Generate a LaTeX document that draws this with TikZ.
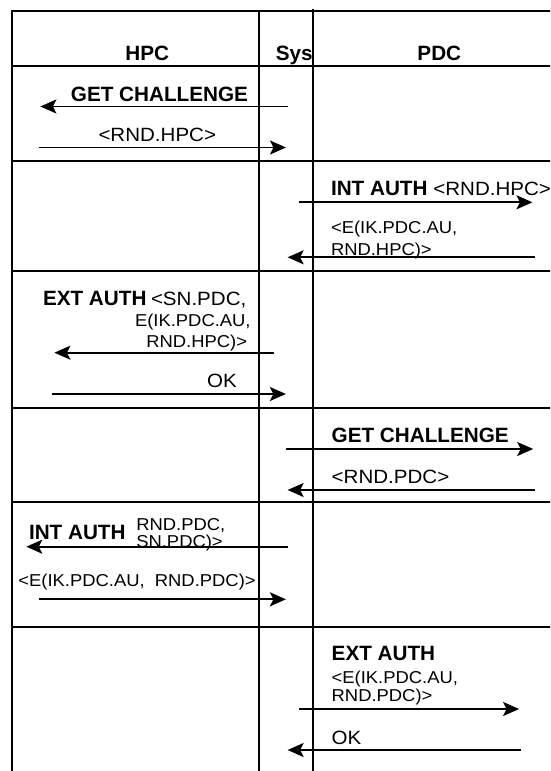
\documentclass[tikz,border=0pt]{standalone}
\usepackage{fontspec}
\setmainfont{Liberation Sans}
\newfontfamily\rfont[FakeStretch=1.07]{Liberation Sans}
\usetikzlibrary{arrows.meta}
\begin{document}
\begin{tikzpicture}[x=1pt,y=-1pt,
  grid/.style={line width=2pt},
  msg/.style={line width=1.9pt,-{Stealth[length=16pt,width=14pt,inset=3.5pt]}},
  bl/.style={font=\fontsize{20.7}{24}\selectfont\bfseries,inner sep=0pt,anchor=base west},
  rl/.style={font=\rfont\fontsize{19.2}{22}\selectfont,inner sep=0pt,anchor=base west},
  rs/.style={font=\rfont\fontsize{17.2}{20}\selectfont,inner sep=0pt,anchor=base west}]
\useasboundingbox (0,0) rectangle (550,771);
\clip (0,0) rectangle (550,771);
% frame
\draw[grid] (11.7,772) -- (11.7,11) -- (552,11);
\draw[grid] (259.3,11) -- (259.3,772);
\draw[grid] (313.3,9.3) -- (313.3,772);
\foreach \y in {65.7,161,270.7,407.7,502.3,626.7} \draw[grid] (11.7,\y) -- (552,\y);
% header
\node[bl,anchor=base] (hpc) at (147.3,60) {HPC};
\node[bl] (sys) at (275.7,60) {Sys};
\node[bl,anchor=base] (pdc) at (439.3,60) {PDC};
% row 1
\node[bl] (t1a) at (70.7,101) {GET CHALLENGE};
\coordinate (a1s) at (287.7,106.5); \coordinate (a1e) at (40.4,106.5);
\draw[msg] (a1s) -- (a1e);
\node[rl] (t1b) at (98.3,141.7) {<RND.HPC>};
\coordinate (a2s) at (38.6,147.5); \coordinate (a2e) at (286,147.5);
\draw[msg] (a2s) -- (a2e);
% row 2
\node[bl] (t2a) at (330.8,195) {INT AUTH};
\node[rl] (t2b) at (433.2,195) {<RND.HPC>};
\coordinate (a3s) at (299.2,202.3); \coordinate (a3e) at (532.5,202.3);
\draw[msg] (a3s) -- (a3e);
\node[rs] (t2c) at (330.8,233.3) {<E(IK.PDC.AU,};
\node[rs] (t2d) at (330.8,255) {RND.HPC)>};
\coordinate (a4s) at (534.9,257.3); \coordinate (a4e) at (287.6,257.3);
\draw[msg] (a4s) -- (a4e);
% row 3
\node[bl] (t3a) at (42.8,305.7) {EXT AUTH};
\node[rl] (t3b) at (150.8,305.7) {<SN.PDC,};
\node[rs,anchor=base east] (t3c) at (250.8,326.7) {E(IK.PDC.AU,};
\node[rs,anchor=base east] (t3d) at (247.3,347.3) {RND.HPC)>};
\coordinate (a5s) at (273.6,352.7); \coordinate (a5e) at (54.4,352.7);
\draw[msg] (a5s) -- (a5e);
\node[rl] (t3e) at (207,387.3) {OK};
\coordinate (a6s) at (51.9,394); \coordinate (a6e) at (285.9,394);
\draw[msg] (a6s) -- (a6e);
% row 4
\node[bl] (t4a) at (331.5,442) {GET CHALLENGE};
\coordinate (a7s) at (285.9,449); \coordinate (a7e) at (533.2,449);
\draw[msg] (a7s) -- (a7e);
\node[rl] (t4b) at (331.5,483.3) {<RND.PDC>};
\coordinate (a8s) at (534.9,490); \coordinate (a8e) at (287.6,490);
\draw[msg] (a8s) -- (a8e);
% row 5
\node[bl] (t5a) at (28.8,539.3) {INT AUTH};
\node[rs] (t5b) at (136.1,530) {RND.PDC,};
\node[rs] (t5c) at (136.1,547.3) {SN.PDC)>};
\coordinate (a9s) at (287.6,546.7); \coordinate (a9e) at (26.3,546.7);
\draw[msg] (a9s) -- (a9e);
\node[rs] (t5d) at (18.2,586.7) {<E(IK.PDC.AU,~ RND.PDC)>};
\coordinate (a10s) at (38.6,599.3); \coordinate (a10e) at (285.9,599.3);
\draw[msg] (a10s) -- (a10e);
% row 6
\node[bl] (t6a) at (331.5,660) {EXT AUTH};
\node[rs] (t6b) at (331.5,683.3) {<E(IK.PDC.AU,};
\node[rs] (t6c) at (331.5,701.7) {RND.PDC)>};
\coordinate (a11s) at (299.2,709); \coordinate (a11e) at (519.1,709);
\draw[msg] (a11s) -- (a11e);
\node[rl] (t6d) at (331.5,744) {OK};
\coordinate (a12s) at (520.9,750); \coordinate (a12e) at (287.6,750);
\draw[msg] (a12s) -- (a12e);
\end{tikzpicture}
\end{document}
